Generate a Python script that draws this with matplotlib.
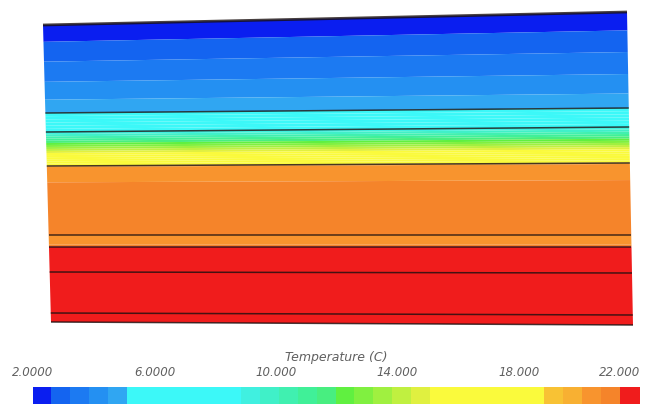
import numpy as np
import matplotlib.pyplot as plt
from matplotlib.colors import ListedColormap, BoundaryNorm
from matplotlib.cm import ScalarMappable

W, H = 658, 407

# domain outline (pixel coords of the picture)
edge_x_top = (43, 627)
edge_x_bottom = (51, 633)

# layer boundaries: y at left edge / right edge (top, internal lines, bottom)
layer_y_left = [25, 113, 132, 166, 235, 247, 272, 313, 322]
layer_y_right = [12, 108, 127, 163, 235, 247, 273, 315, 325]

# temperature profile read along the left edge
profile_y = [25, 42, 62, 82, 100, 113, 132, 143, 153, 165.5, 167, 182, 184,
             234, 236, 244, 247, 322]
profile_temp = [2.1, 2.63, 3.26, 3.88, 4.51, 5.13, 8.87, 12.0, 15.13, 18.87,
                20.2, 20.7, 21.0, 21.0, 20.5, 20.5, 21.6, 21.8]

# legend (32 bands from 2 to 22)
band_colors = ['#0a1ef0', '#1464f0', '#1c7af2', '#2490f2', '#30a6f2',
               '#3cf8f8', '#3cf8f8', '#3cf8f8', '#3cf8f8', '#3cf8f8', '#3cf8f8',
               '#40f0e0', '#40f0c8', '#40f0b0', '#40f098', '#48ee80',
               '#60f040', '#80f040', '#a0f040', '#c0f040', '#e0f040',
               '#fafa3c', '#fafa3c', '#fafa3c', '#fafa3c', '#fafa3c', '#fafa3c',
               '#f8c234', '#f8b032', '#f8942e', '#f5842a', '#f01c1c']
tick_values = [2, 6, 10, 14, 18, 22]
tick_labels = ['2.0000', '6.0000', '10.000', '14.000', '18.000', '22.000']

levels = np.linspace(2, 22, len(band_colors) + 1)
cmap = ListedColormap(band_colors)
norm = BoundaryNorm(levels, cmap.N)

fig = plt.figure(figsize=(W / 100, H / 100), dpi=100)
ax = fig.add_axes([0, 0, 1, 1])
ax.set_xlim(0, W)
ax.set_ylim(H, 0)
ax.axis('off')

# curvilinear grid following the layers
yl = np.array(profile_y, dtype=float)
yr = np.interp(yl, layer_y_left, layer_y_right)
frac = (yl - layer_y_left[0]) / (layer_y_left[-1] - layer_y_left[0])
xl = edge_x_top[0] + (edge_x_bottom[0] - edge_x_top[0]) * frac
xr = edge_x_top[1] + (edge_x_bottom[1] - edge_x_top[1]) * frac
t = np.linspace(0, 1, 60)
X = xl[:, None] + (xr - xl)[:, None] * t[None, :]
Y = yl[:, None] + (yr - yl)[:, None] * t[None, :]
T = np.repeat(np.array(profile_temp)[:, None], len(t), axis=1)

ax.contourf(X, Y, T, levels=levels, cmap=cmap, norm=norm, antialiased=True)

# layer lines
for i, (a, b) in enumerate(zip(layer_y_left, layer_y_right)):
    f = (a - layer_y_left[0]) / (layer_y_left[-1] - layer_y_left[0])
    x0 = edge_x_top[0] + (edge_x_bottom[0] - edge_x_top[0]) * f
    x1 = edge_x_top[1] + (edge_x_bottom[1] - edge_x_top[1]) * f
    lw = 2.0 if i == 0 else 1.1
    ax.plot([x0, x1], [a, b], color='#1a1010', lw=lw, alpha=0.8,
            solid_capstyle='butt')

# colorbar
cax = fig.add_axes([33 / W, 1 - 404 / H, 607 / W, 17 / H])
cb = fig.colorbar(ScalarMappable(norm=norm, cmap=cmap), cax=cax,
                  orientation='horizontal', ticks=tick_values)
cb.outline.set_visible(False)
cb.solids.set_edgecolor('face')
cax.minorticks_off()
cax.xaxis.set_ticks_position('top')
cax.tick_params(which='both', length=0, pad=6)
cax.set_xticklabels(tick_labels, style='italic', color='#606060', fontsize=8.5)
# last label sits at the figure edge in the original
cax.get_xticklabels()[-1].set_horizontalalignment('right')
cax.get_xticklabels()[-1].set_x(22.3)
fig.text(336.5 / W, 1 - 357 / H, 'Temperature (C)', ha='center', va='center',
         style='italic', color='#606060', fontsize=9)

fig.savefig('out.png', dpi=100)
